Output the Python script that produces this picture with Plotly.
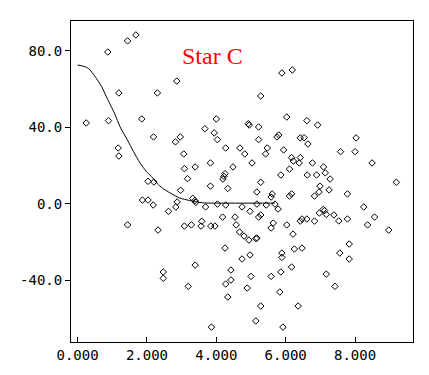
import plotly.graph_objects as go

obs_x = [0.87, 1.44, 1.68, 1.19, 2.30, 0.25, 0.89, 1.85, 2.19, 1.17, 1.19, 2.03, 2.20, 2.86,
         4.00, 3.67, 3.94, 4.03, 2.96, 2.82, 3.06, 4.27, 4.68, 4.82, 3.83, 3.39, 3.08, 4.48,
         4.25, 4.19, 3.17, 5.89, 6.19, 5.28, 6.03, 4.92, 4.95, 5.22, 6.61, 6.92, 5.22, 5.80,
         5.75, 6.42, 6.53, 6.64, 5.47, 5.42, 5.94, 5.03, 6.17, 6.22, 6.42, 6.39, 6.77, 7.09,
         7.14, 7.28, 6.11, 5.86, 6.62, 6.89, 5.28, 8.03, 7.58, 8.00, 8.49, 9.19, 1.87, 2.03,
         2.18, 1.44, 2.32, 3.83, 4.33, 2.97, 3.32, 3.38, 3.41, 2.87, 2.83, 2.62, 3.69, 4.03,
         4.27, 4.74, 4.18, 4.54, 3.08, 3.28, 3.58, 3.56, 3.84, 3.96, 4.57, 4.67, 4.80, 4.25,
         4.74, 3.39, 2.47, 2.47, 4.42, 4.42, 4.27, 3.19, 4.33, 3.86, 5.17, 5.61, 5.58, 6.17,
         6.11, 6.99, 6.96, 6.83, 7.25, 5.17, 5.44, 5.69, 4.97, 5.78, 5.22, 5.28, 5.64, 5.58,
         6.03, 6.42, 6.47, 6.61, 6.83, 6.97, 7.08, 7.12, 7.17, 6.21, 4.94, 5.17, 5.14, 6.25,
         6.47, 4.97, 5.89, 5.89, 6.17, 5.86, 5.58, 5.00, 7.17, 4.89, 5.83, 5.28, 6.36, 5.14,
         5.92, 7.78, 8.25, 7.39, 7.53, 7.78, 8.56, 8.36, 8.97, 7.83, 7.56, 7.83, 7.42, 4.22]
obs_y = [79.3, 85.1, 88.2, 57.9, 57.9, 42.2, 43.4, 44.3, 34.9, 29.1, 24.9, 11.7, 11.3, 64.1,
         44.3, 39.2, 37.0, 33.5, 34.9, 32.3, 26.0, 29.1, 29.1, 26.0, 21.3, 19.2, 18.3, 19.2,
         15.7, 12.9, 13.1, 68.3, 69.9, 56.3, 45.3, 41.8, 41.1, 40.1, 43.4, 41.1, 33.5, 35.9,
         34.9, 34.4, 34.5, 31.2, 29.1, 26.0, 28.1, 21.3, 24.1, 22.3, 24.1, 21.3, 21.3, 19.2,
         16.1, 12.9, 18.1, 15.0, 15.0, 15.0, 11.2, 34.4, 27.2, 27.2, 21.3, 11.2, 1.9, 1.9,
         -0.7, -11.1, -13.8, 9.2, 8.0, 7.0, 2.8, 1.6, 0.7, 0.9, -1.7, -4.0, -1.7, -0.2,
         -0.7, -1.7, -7.0, -7.0, -11.7, -11.1, -9.2, -11.7, -11.7, -11.7, -11.1, -14.8, -16.9, -23.2,
         -28.9, -32.1, -35.7, -39.0, -34.7, -39.9, -42.0, -43.2, -48.8, -64.5, 6.1, 5.1, 3.5, 5.1,
         4.0, 9.2, 6.1, 4.0, 7.2, -0.2, -0.7, -0.2, -4.0, -2.8, -7.0, -5.9, -10.1, -12.7,
         -11.1, -9.1, -8.0, -8.0, -9.1, -4.9, -3.0, -3.6, -5.6, -15.9, -19.0, -18.0, -18.2, -23.7,
         -23.2, -26.8, -25.8, -28.1, -33.1, -35.7, -38.0, -38.0, -36.8, -44.1, -46.2, -53.5, -53.5, -61.3,
         -64.5, 5.1, -1.7, -5.9, -9.0, -8.0, -7.0, -11.1, -13.8, -21.1, -25.8, -28.9, -43.2, 14.3]

# fitted curve
fit_x = [0, 0.18, 0.32, 0.5, 0.69, 0.87, 1.06, 1.24, 1.43, 1.61, 1.80, 1.98, 2.17, 2.30,
         2.44, 2.67, 2.94, 3.22, 3.41, 3.64, 4.0, 5.69]
fit_y = [72.5, 71.8, 70.6, 66.6, 61.3, 54.4, 47.4, 39.6, 33.5, 27.3, 21.3, 16.9, 13.4, 10.5,
         8.2, 5.6, 3.0, 1.7, 1.0, 0.4, 0.3, 0.3]

x_tickvals = [0, 2, 4, 6, 8]
x_ticktext = ["0.000", "2.000", "4.000", "6.000", "8.000"]
y_tickvals = [-40, 0, 40, 80]
y_ticktext = ["-40.0", "0.0", "40.0", "80.0"]
title_text = "Star C"

fig = go.Figure()
fig.add_trace(go.Scatter(x=obs_x, y=obs_y, mode="markers",
                         marker=dict(symbol="diamond-open", size=5, color="black",
                                     line=dict(width=1, color="black")),
                         showlegend=False, hoverinfo="skip"))
fig.add_trace(go.Scatter(x=fit_x, y=fit_y, mode="lines",
                         line=dict(color="black", width=1, shape="spline", smoothing=0.6),
                         showlegend=False, hoverinfo="skip"))

axis_font = dict(family="DejaVu Sans Mono", size=14, color="black")
fig.update_xaxes(range=[-0.19, 9.67], tickvals=x_tickvals, ticktext=x_ticktext,
                 ticks="inside", ticklen=5, tickwidth=1, tickcolor="black",
                 showline=True, linecolor="black", linewidth=1, mirror=True,
                 showgrid=False, zeroline=False, tickfont=axis_font)
fig.update_yaxes(range=[-72.3, 95.5], tickvals=y_tickvals, ticktext=y_ticktext,
                 ticks="outside", ticklen=5, tickwidth=1, tickcolor="black",
                 showline=True, linecolor="black", linewidth=1, mirror=True,
                 showgrid=False, zeroline=False, tickfont=axis_font)

fig.add_annotation(text=title_text, xref="paper", yref="paper", x=0.415, y=0.891,
                   xanchor="center", yanchor="middle", showarrow=False,
                   font=dict(family="Liberation Serif", size=24, color="red"))

fig.update_layout(width=421, height=367, margin=dict(l=50, r=16, t=13, b=33),
                  paper_bgcolor="white", plot_bgcolor="white")

fig.write_html("out.html")
